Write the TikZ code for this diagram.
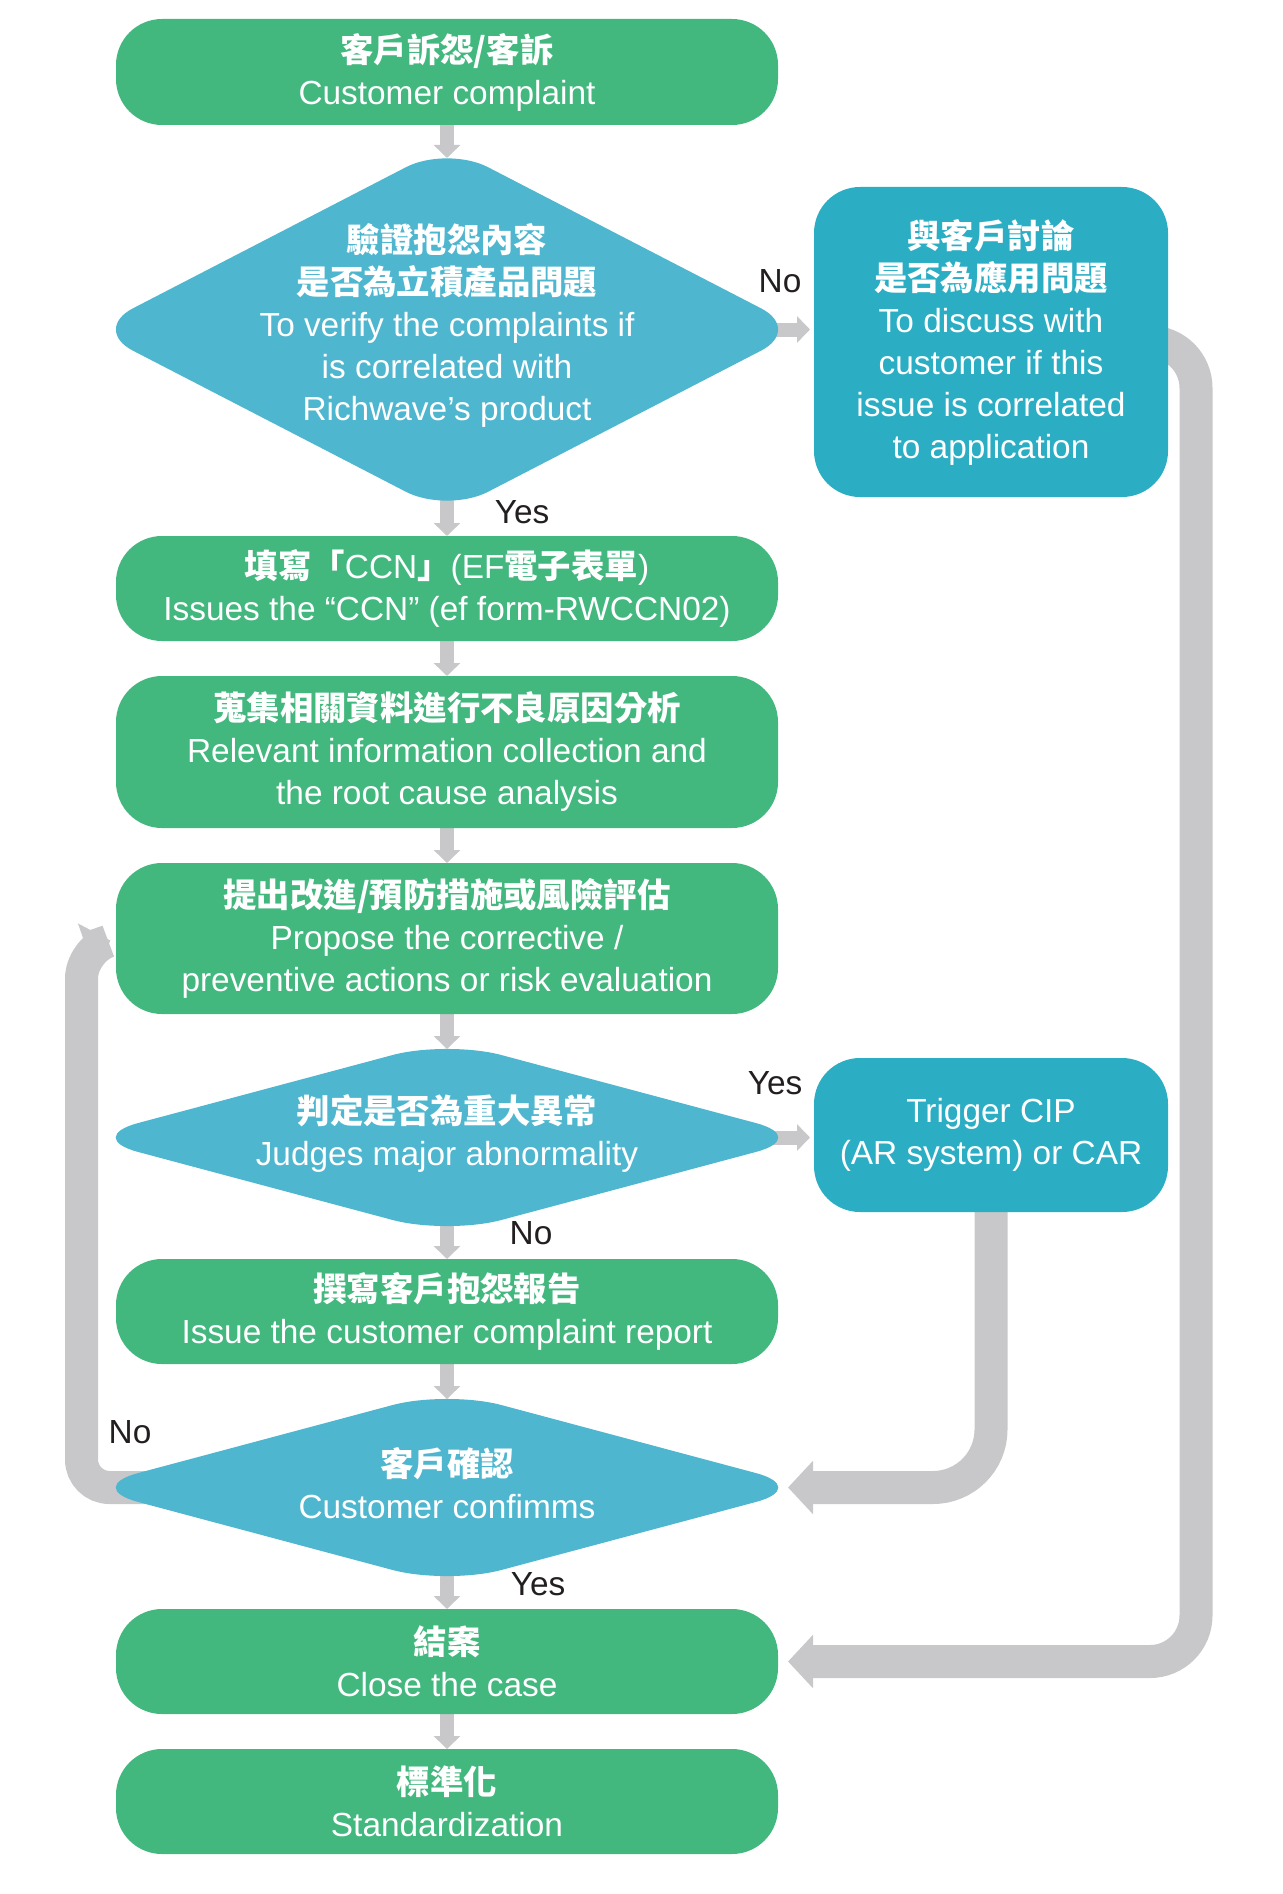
\documentclass[tikz,border=0pt]{standalone}
\usepackage{fontspec}
\setmainfont{Liberation Sans}
\newfontfamily\cjk{Noto Sans CJK TC}
\newcommand\zh[1]{{\cjk\bfseries #1}}
\usepackage{xcolor}
\usetikzlibrary{shapes.geometric}
\usetikzlibrary{positioning}
\usetikzlibrary{arrows.meta}
\definecolor{stagegreen}{RGB}{66,183,126}
\definecolor{decideblue}{RGB}{78,182,206}
\definecolor{sideteal}{RGB}{43,174,196}
\definecolor{flowgray}{RGB}{200,200,202}
\definecolor{lblgray}{RGB}{35,31,32}
\pgfdeclarelayer{bg}
\pgfsetlayers{bg,main}
\tikzset{every node/.style={font=\fontsize{16.7pt}{21pt}\selectfont,outer sep=0pt},
         stage/.style={fill=stagegreen,text=white,rounded corners=23pt,minimum width=331pt,minimum height=52.5pt,align=center,inner sep=4pt},
         decide/.style={diamond,fill=decideblue,inner sep=0pt,minimum width=363pt,minimum height=97pt,rounded corners=28pt},
         side/.style={fill=sideteal,text=white,rounded corners=23pt,minimum width=177pt,align=center},
         dtext/.style={text=white,align=center,yshift=2pt},
         lbl/.style={text=lblgray},
         flow/.style={draw=flowgray,line width=7pt,-{Triangle[width=13pt,length=6.5pt]}},
         bigarrow/.style={draw=flowgray,line width=16.5pt,-{Triangle[width=26pt,length=12.5pt]}},
         }

\begin{document}
\begin{tikzpicture}[x=0.5pt,y=-0.5pt]
\useasboundingbox (0,0) rectangle (1283,1894);
\node[stage,minimum height=53pt] (top) at (447,72) {\zh{客戶訴怨/客訴}\\Customer complaint};
\node[decide,below=10.5pt of top,minimum width=355pt,minimum height=183.5pt,rounded corners=23pt] (d1) {};
\node[dtext] (d1txt) at (d1) {\zh{驗證抱怨內容}\\\zh{是否為立積產品問題}\\To verify the complaints if\\is correlated with\\Richwave’s product};
\node[side,right=6pt of d1,yshift=-6.25pt,minimum height=155pt] (disc) {\zh{與客戶討論}\\\zh{是否為應用問題}\\To discuss with\\customer if this\\issue is correlated\\to application};
\node[stage,below=11.5pt of d1] (ccn) {\zh{填寫「}CCN\zh{」}(EF\zh{電子表單})\\Issues the “CCN” (ef form-RWCCN02)};
\node[stage,below=17.5pt of ccn,minimum height=76pt] (anal) {\zh{蒐集相關資料進行不良原因分析}\\Relevant information collection and\\the root cause analysis};
\node[stage,below=17.5pt of anal,minimum height=75.5pt] (prop) {\zh{提出改進/預防措施或風險評估}\\Propose the corrective /\\preventive actions or risk evaluation};
\node[decide,below=13.25pt of prop] (d2) {};
\node[dtext] (d2txt) at (d2) {\zh{判定是否為重大異常}\\Judges major abnormality};
\node[side,right=2pt of d2,yshift=1.25pt,minimum height=77pt] (cip) {Trigger CIP\\(AR system) or CAR};
\node[stage,below=12.25pt of d2] (report) {\zh{撰寫客戶抱怨報告}\\Issue the customer complaint report};
\node[decide,below=13.25pt of report] (d3) {};
\node[dtext] (d3txt) at (d3) {\zh{客戶確認}\\Customer confimms};
\node[stage,below=12.25pt of d3] (close) {\zh{結案}\\Close the case};
\node[stage,below=17.5pt of close] (std) {\zh{標準化}\\Standardization};

\node[lbl] (no1) at (780,281) {No};
\node[lbl] (yes1) at (522,512) {Yes};
\node[lbl] (yes2) at (775,1083) {Yes};
\node[lbl] (no2) at (531,1233) {No};
\node[lbl] (no3) at (130,1432) {No};
\node[lbl] (yes3) at (538,1584) {Yes};

\coordinate (rbend) at ([xshift=14pt]disc.east |- close.east);
\coordinate (lbend) at ([xshift=-17.25pt,yshift=-6pt]prop.west);

\begin{pgfonlayer}{bg}
\draw[flow,shorten >=-6pt] (top.south) -- (d1.north);
\draw[flow] (d1.center) -- (ccn.north);
\draw[flow] (ccn) -- (anal);
\draw[flow] (anal) -- (prop);
\draw[flow,shorten >=-4.25pt] (prop.south) -- (d2.north);
\draw[flow] (d2.center) -- (report.north);
\draw[flow,shorten >=-4.25pt] (report.south) -- (d3.north);
\draw[flow] (d3.center) -- (close.north);
\draw[flow] (close) -- (std);
\draw[flow,shorten >=2pt] (d1.center) -- (d1.center -| disc.west);
\draw[flow,shorten >=2pt] (d2.center) -- (d2.center -| cip.west);
\draw[bigarrow,rounded corners=23pt,shorten >=5pt] (disc.center) -| (rbend) -- (close.east);
\draw[bigarrow,rounded corners=29pt] (cip.center) |- ([xshift=-11pt]d3.east);
\draw[bigarrow,rounded corners=14pt,shorten >=3pt] (d3.center) -| (lbend) -- (prop.west);
\end{pgfonlayer}
\end{tikzpicture}
\end{document}
